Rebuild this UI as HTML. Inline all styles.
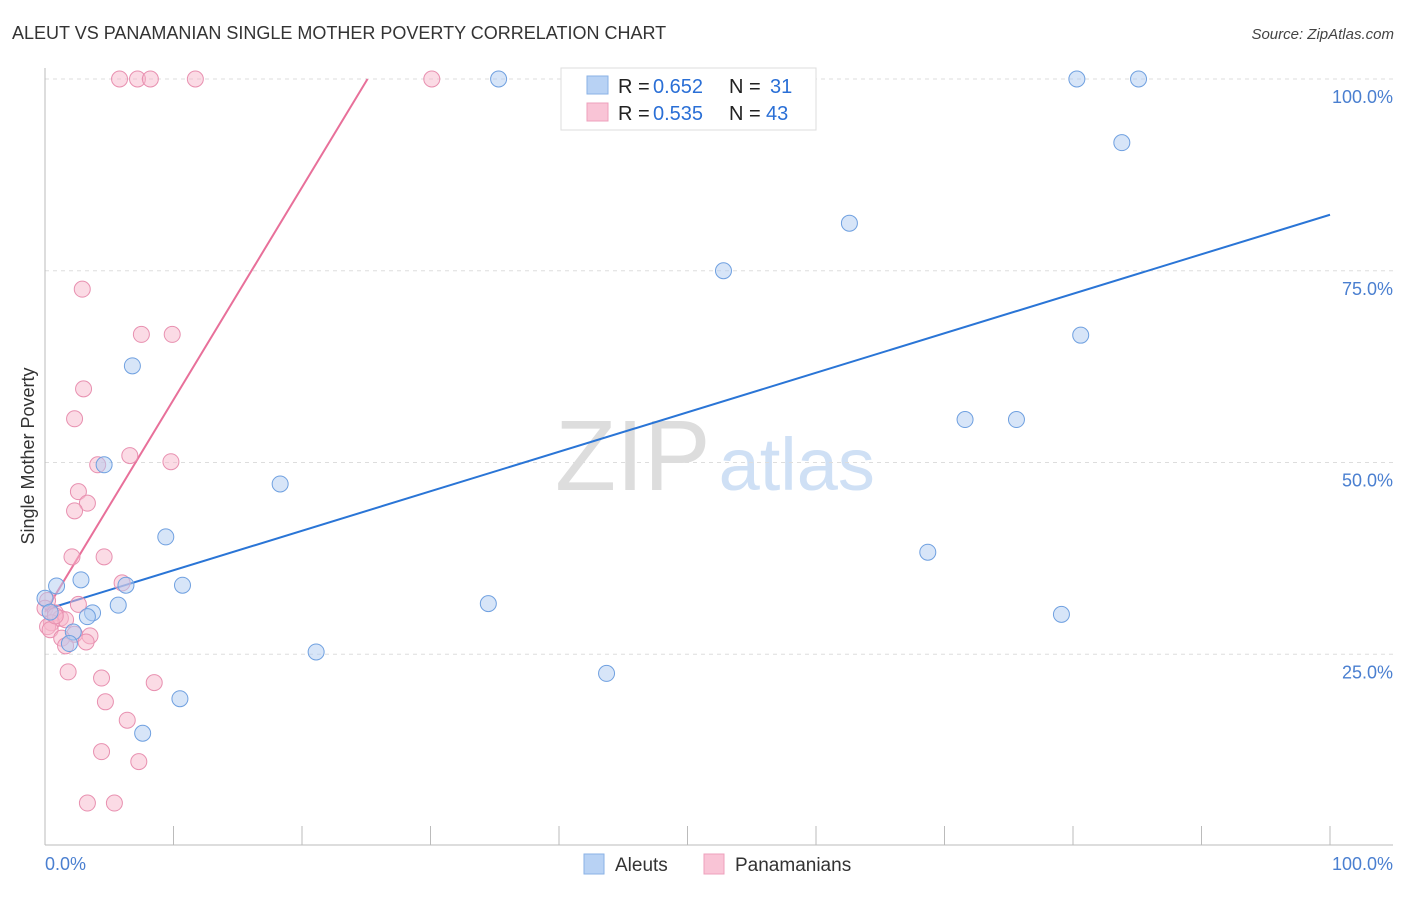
<!DOCTYPE html>
<html><head><meta charset="utf-8"><style>
body{margin:0;background:#fff;font-family:"Liberation Sans",sans-serif;}
svg text{font-family:"Liberation Sans",sans-serif;}
</style></head><body>
<svg id="chart" width="1406" height="892" xmlns="http://www.w3.org/2000/svg">
<text x="12" y="39" font-size="18" fill="#333">ALEUT VS PANAMANIAN SINGLE MOTHER POVERTY CORRELATION CHART</text>
<text x="1394" y="39" font-size="15" fill="#444" text-anchor="end" font-style="italic">Source: ZipAtlas.com</text>
<text x="555" y="490" font-size="100" fill="#ddd" font-family="Liberation Serif">ZIP<tspan fill="#cfe0f5" font-family="Liberation Sans" font-size="74" dx="8">atlas</tspan></text>
<g id="grid"></g>
<g id="axes"></g>
<g id="lines"></g>
<g id="points"></g>
<text transform="translate(34,456) rotate(-90)" font-size="18" fill="#333" text-anchor="middle">Single Mother Poverty</text>
<text x="45" y="870" font-size="18" fill="#4a7fd0">0.0%</text>
<text x="1393" y="870" font-size="18" fill="#4a7fd0" text-anchor="end">100.0%</text>
<g>
<rect x="561" y="68" width="255" height="62" fill="#fff" stroke="#ddd"/>
<rect x="587" y="76" width="21" height="18" fill="#b8d2f4" stroke="#8ab2e6"/>
<rect x="587" y="103" width="21" height="18" fill="#f9c4d6" stroke="#eea0bc"/>
<text x="618" y="93" font-size="20" fill="#222">R =</text>
<text x="653" y="93" font-size="20" fill="#2a6fd6">0.652</text>
<text x="729" y="93" font-size="20" fill="#222">N =</text>
<text x="770" y="93" font-size="20" fill="#2a6fd6">31</text>
<text x="618" y="120" font-size="20" fill="#222">R =</text>
<text x="653" y="120" font-size="20" fill="#2a6fd6">0.535</text>
<text x="729" y="120" font-size="20" fill="#222">N =</text>
<text x="766" y="120" font-size="20" fill="#2a6fd6">43</text>
</g>
<g>
<rect x="584" y="854" width="20" height="20" fill="#b8d2f4" stroke="#8ab2e6"/>
<text x="615" y="871" font-size="19" fill="#333">Aleuts</text>
<rect x="704" y="854" width="20" height="20" fill="#f9c4d6" stroke="#eea0bc"/>
<text x="735" y="871" font-size="19" fill="#333">Panamanians</text>
</g>
</svg>
<script>
const yTicks=[25,50,75,100];
const yTickLabels=["25.0%","50.0%","75.0%","100.0%"];
const aleutX=[35.3,80.3,85.1,83.8,62.6,52.8,80.6,6.8,71.6,75.6,4.6,18.3,9.4,68.7,0.9,2.8,6.3,10.7,0,5.7,34.5,3.7,3.3,79.1,2.2,1.9,21.1,43.7,10.5,7.6,0.4];
const aleutY=[100,100,100,91.7,81.2,75.0,66.6,62.6,55.6,55.6,49.7,47.2,40.3,38.3,33.9,34.7,34.0,34.0,32.3,31.4,31.6,30.4,29.9,30.2,27.9,26.4,25.3,22.5,19.2,14.7,30.5];
const panX=[5.8,7.2,8.2,11.7,30.1,2.9,7.5,9.9,3.0,2.3,6.6,4.1,9.8,2.6,3.3,2.3,2.1,4.6,6.0,0.2,2.6,0,0.8,1.2,1.6,0.5,0.2,0.4,2.3,3.5,1.3,3.2,1.6,1.8,4.4,8.5,4.7,6.4,4.4,7.3,3.3,5.4,0.8];
const panY=[100,100,100,100,100,72.6,66.7,66.7,59.6,55.7,50.9,49.7,50.1,46.2,44.7,43.7,37.7,37.7,34.3,32.0,31.5,31.0,30.4,29.7,29.5,29.1,28.6,28.2,27.6,27.4,27.1,26.6,26.1,22.7,21.9,21.3,18.8,16.4,12.3,11.0,5.6,5.6,30.0];
const aleutLine=[[0,30.8],[100,82.3]];
const panLine=[[0,30.5],[25.1,100]];
const NS="http://www.w3.org/2000/svg";
const xs=v=>45+v*12.85, ys=v=>846-v*7.67;
function mk(t,a,p){const e=document.createElementNS(NS,t);for(const k in a)e.setAttribute(k,a[k]);p.appendChild(e);return e;}
const grid=document.getElementById('grid'),axes=document.getElementById('axes'),lines=document.getElementById('lines'),pts=document.getElementById('points');
yTicks.forEach((t,i)=>{
 const l=mk('line',{x1:45,x2:1393,y1:ys(t),y2:ys(t),stroke:'#ddd','stroke-dasharray':'4,4'},grid);
 
 
 const tx=mk('text',{x:1393,y:ys(t)+24,'font-size':18,fill:'#4a7fd0','text-anchor':'end'},grid);
 tx.textContent=yTickLabels[i];
 
 
});
const ax=mk('line',{x1:45,x2:1393,y1:845,y2:845,stroke:'#bbb'},axes);


const ay=mk('line',{x1:45,x2:45,y1:68,y2:845,stroke:'#bbb'},axes);


for(let i=1;i<=10;i++){const t=mk('line',{x1:xs(i*10),x2:xs(i*10),y1:826,y2:845,stroke:'#bbb'},axes);
 
 }
function dots(X,Y,fill,stroke,name){X.forEach((x,i)=>{const c=mk('circle',{cx:xs(x),cy:ys(Y[i]),r:8,fill:fill,'fill-opacity':0.5,stroke:stroke,'stroke-width':1},pts);
 
 });}
dots(panX,panY,'#f7b8cc','#e890b0','panamanian-point');
dots(aleutX,aleutY,'#b0ccf2','#6fa0e0','aleut-point');
const bl=mk('line',{x1:xs(aleutLine[0][0]),y1:ys(aleutLine[0][1]),x2:xs(aleutLine[1][0]),y2:ys(aleutLine[1][1]),stroke:'#2a75d6','stroke-width':2},lines);


const pl=mk('line',{x1:xs(panLine[0][0]),y1:ys(panLine[0][1]),x2:xs(panLine[1][0]),y2:ys(panLine[1][1]),stroke:'#e8709a','stroke-width':2},lines);


</script>
</body></html>
